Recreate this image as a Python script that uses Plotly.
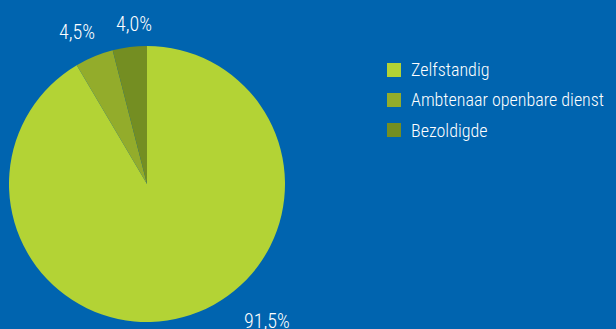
import plotly.graph_objects as go

# Verdeling naar statuut
categories = ["Zelfstandig", "Ambtenaar openbare dienst", "Bezoldigde"]
shares = [91.5, 4.5, 4.0]
colors = ["#B3D335", "#93AC2B", "#748E22"]

BG = "#0064AF"
FONT = "Roboto Condensed, Arial Narrow, sans-serif"
W, H = 616, 329

def fmt(v):
    return f"{v:.1f}%".replace(".", ",")

fig = go.Figure(go.Pie(
    labels=categories,
    values=shares,
    marker=dict(colors=colors, line=dict(width=0)),
    sort=False,
    direction="clockwise",
    rotation=0,
    textinfo="none",
    hoverinfo="label+percent",
    domain=dict(x=[9 / W, 285 / W], y=[7 / H, 283 / H]),
    showlegend=False,
))

# percentage labels around the pie (pixel positions, top-left origin)
label_pos = [(267, 321), (77, 32), (134, 24)]
for v, (px, py) in zip(shares, label_pos):
    fig.add_annotation(
        x=px / W, y=1 - py / H, xref="paper", yref="paper",
        text=fmt(v), showarrow=False,
        font=dict(family=FONT, size=20, color="white", weight=350),
        xanchor="center", yanchor="middle",
    )

# legend: coloured squares with labels
for i, (cat, col) in enumerate(zip(categories, colors)):
    cy = 70 + 30 * i
    fig.add_shape(
        type="rect", xref="paper", yref="paper",
        x0=387 / W, x1=401 / W, y0=1 - (cy + 7) / H, y1=1 - (cy - 7) / H,
        fillcolor=col, line=dict(width=0),
    )
    fig.add_annotation(
        x=409 / W, y=1 - cy / H, xref="paper", yref="paper",
        text=cat, showarrow=False,
        font=dict(family=FONT, size=18, color="white", weight=350),
        xanchor="left", yanchor="middle",
    )

fig.update_layout(
    width=W, height=H,
    margin=dict(l=0, r=0, t=0, b=0),
    paper_bgcolor=BG, plot_bgcolor=BG,
)

fig.write_html("out.html")
